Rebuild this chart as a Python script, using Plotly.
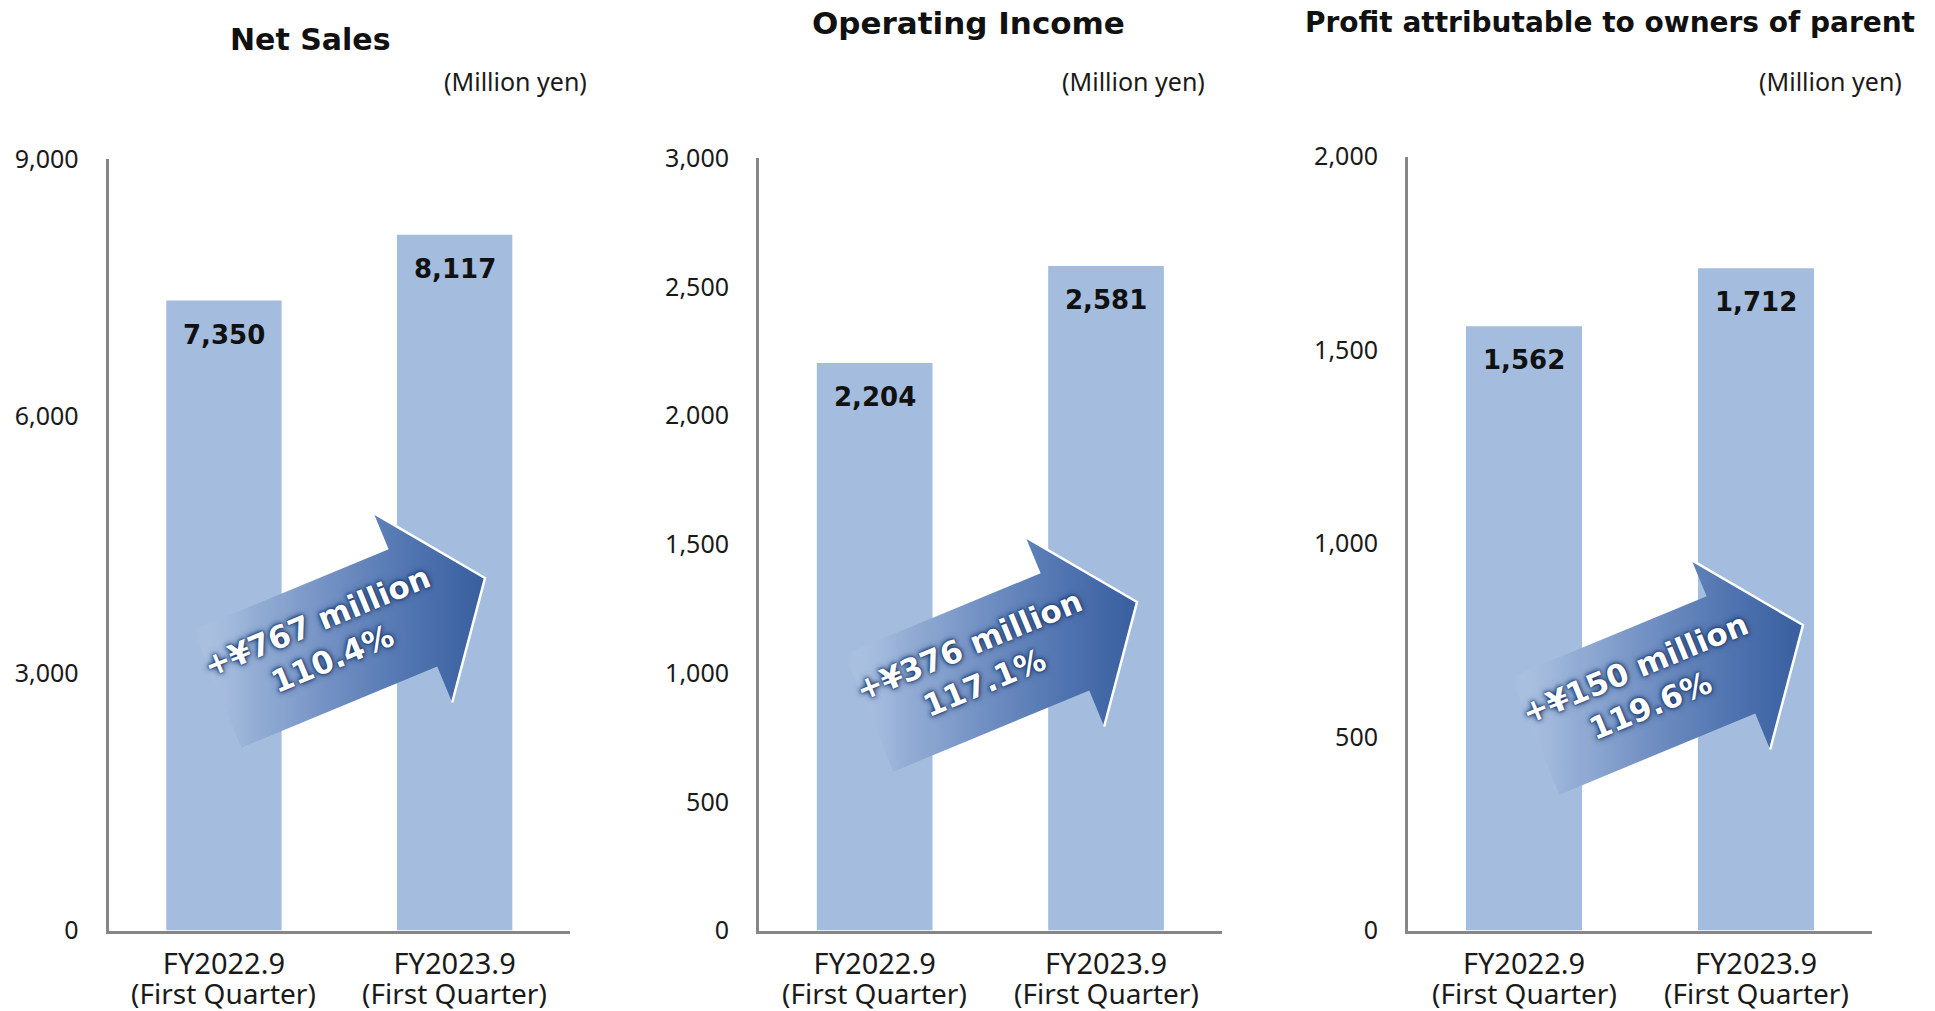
import math
import plotly.graph_objects as go

# ---------------- data ----------------
categories = ["FY2022.9", "FY2023.9"]
period_label = "(First Quarter)"
titles = ["Net Sales", "Operating Income", "Profit attributable to owners of parent"]
unit_label = "(Million yen)"
net_sales = [7350, 8117]
operating_income = [2204, 2581]
profit_parent = [1562, 1712]
y_max = [9000, 3000, 2000]
y_dtick = [3000, 500, 500]
change_amount = ["+¥767 million", "+¥376 million", "+¥150 million"]
change_ratio = ["110.4%", "117.1%", "119.6%"]

series = [net_sales, operating_income, profit_parent]

# ---------------- style / layout ----------------
W, H = 1935, 1011
BAR_COLOR = "#A4BCDD"
AXIS_COLOR = "#868686"
REG_FONT = "Noto Sans"
BOLD_FONT = "DejaVu Sans"

panels_px = [(108.6, 570.0, 159.2), (759.0, 1221.7, 158.0), (1408.0, 1872.0, 156.7)]
y_bottom_px = 930.5
title_px = [(310, 39.5), (968.7, 23.4), (1610, 22)]
title_size = [30, 31, 28]
unit_px = [(588.6, 81.4), (1206.9, 81.4), (1904, 81.4)]
period_y_px = 993
arrow_tip_px = [(485, 578), (1137, 602), (1803, 625)]
text_offset = (-161, 62)
ARROW_ANGLE = 22.5
SHAFT_LEN, HEAD_LEN, SHAFT_W, HEAD_W = 212, 78, 127, 205


def px(x):
    return x / W


def sy(s):
    """screen y pixel -> paper fraction"""
    return 1 - s / H


fig = go.Figure()
layout_axes = {}
annotations = []

for i, vals in enumerate(series):
    n = i + 1
    xa = "x" if n == 1 else f"x{n}"
    ya = "y" if n == 1 else f"y{n}"
    x0, x1, ytop = panels_px[i]
    fig.add_trace(go.Bar(
        x=categories, y=vals, width=0.5, marker=dict(color=BAR_COLOR, line=dict(width=0)),
        xaxis=xa, yaxis=ya, showlegend=False, hoverinfo="skip",
    ))
    layout_axes["xaxis" if n == 1 else f"xaxis{n}"] = dict(
        domain=[px(x0), px(x1)], anchor=ya, range=[-0.5, 1.5], type="category",
        showline=True, linecolor=AXIS_COLOR, linewidth=3, showgrid=False, zeroline=False,
        ticks="", ticklabelstandoff=6, fixedrange=True, automargin=False,
        tickfont=dict(family=REG_FONT, size=29, color="#1a1a1a"),
    )
    layout_axes["yaxis" if n == 1 else f"yaxis{n}"] = dict(
        domain=[sy(y_bottom_px), sy(ytop)], anchor=xa, range=[0, y_max[i]],
        dtick=y_dtick[i], tick0=0, tickformat=",d",
        showline=True, linecolor=AXIS_COLOR, linewidth=3, showgrid=False, zeroline=False,
        ticks="", ticklabelstandoff=22, fixedrange=True, automargin=False,
        tickfont=dict(family=REG_FONT, size=25, color="#1a1a1a"),
    )
    for c, v in zip(categories, vals):
        annotations.append(dict(
            x=c, y=v, xref=xa, yref=ya, text=f"{v:,}", showarrow=False,
            yanchor="middle", yshift=-34,
            font=dict(family=BOLD_FONT, size=26, color="#111111", weight="bold"),
        ))
        annotations.append(dict(
            x=c, y=sy(period_y_px), xref=xa, yref="paper", text=period_label, showarrow=False,
            yanchor="middle",
            font=dict(family=REG_FONT, size=28, color="#1a1a1a"),
        ))
    tx, ty = title_px[i]
    annotations.append(dict(
        x=px(tx), y=sy(ty), xref="paper", yref="paper", text=titles[i], showarrow=False,
        xanchor="center", yanchor="middle",
        font=dict(family=BOLD_FONT, size=title_size[i], color="#111111", weight="bold"),
    ))
    ux, uy = unit_px[i]
    annotations.append(dict(
        x=px(ux), y=sy(uy), xref="paper", yref="paper", text=unit_label, showarrow=False,
        xanchor="right", yanchor="middle",
        font=dict(family=REG_FONT, size=25, color="#1a1a1a"),
    ))

    # ---------- growth arrow (decoration, drawn in pixel space) ----------
    a = math.radians(ARROW_ANGLE)
    ux_, uy_ = math.cos(a), -math.sin(a)
    nx_, ny_ = math.sin(a), math.cos(a)
    tipx, tipy = arrow_tip_px[i]
    jx, jy = tipx - HEAD_LEN * ux_, tipy - HEAD_LEN * uy_
    tx_, ty_ = jx - SHAFT_LEN * ux_, jy - SHAFT_LEN * uy_
    pts = [
        (tx_ - nx_ * SHAFT_W / 2, ty_ - ny_ * SHAFT_W / 2),
        (jx - nx_ * SHAFT_W / 2, jy - ny_ * SHAFT_W / 2),
        (jx - nx_ * HEAD_W / 2, jy - ny_ * HEAD_W / 2),
        (tipx, tipy),
        (jx + nx_ * HEAD_W / 2, jy + ny_ * HEAD_W / 2),
        (jx + nx_ * SHAFT_W / 2, jy + ny_ * SHAFT_W / 2),
        (tx_ + nx_ * SHAFT_W / 2, ty_ + ny_ * SHAFT_W / 2),
    ]
    pts.append(pts[0])
    fig.add_trace(go.Scatter(
        x=[p[0] for p in pts], y=[p[1] for p in pts], xaxis="x4", yaxis="y4",
        mode="lines", fill="toself", line=dict(color="rgba(0,0,0,0)", width=0),
        fillgradient=dict(type="horizontal", colorscale=[
            [0.0, "rgba(190,207,232,0)"],
            [0.08, "rgba(168,190,223,0.6)"],
            [0.2, "rgba(148,174,213,0.97)"],
            [0.45, "rgb(116,146,196)"],
            [0.75, "rgb(80,116,176)"],
            [1.0, "rgb(56,94,158)"],
        ]),
        showlegend=False, hoverinfo="skip",
    ))
    fig.add_trace(go.Scatter(
        x=[pts[2][0], pts[3][0], pts[4][0]], y=[pts[2][1], pts[3][1], pts[4][1]],
        xaxis="x4", yaxis="y4", mode="lines",
        line=dict(color="white", width=2.5), showlegend=False, hoverinfo="skip",
    ))
    annotations.append(dict(
        x=tipx + text_offset[0], y=tipy + text_offset[1], xref="x4", yref="y4",
        text=f"{change_amount[i]}<br>{change_ratio[i]}", showarrow=False,
        textangle=-ARROW_ANGLE, xanchor="center", yanchor="middle",
        font=dict(family=BOLD_FONT, size=31, color="white", weight="bold",
                  shadow="0px 0px 2px #1a3566, 0px 0px 4px #1a3566, 0px 0px 7px #2b4d88"),
    ))

layout_axes["xaxis4"] = dict(domain=[0, 1], range=[0, W], visible=False, anchor="y4", fixedrange=True)
layout_axes["yaxis4"] = dict(domain=[0, 1], range=[H, 0], visible=False, anchor="x4", fixedrange=True)

fig.update_layout(
    width=W, height=H, margin=dict(l=0, r=0, t=0, b=0, autoexpand=False),
    paper_bgcolor="white", plot_bgcolor="rgba(0,0,0,0)",
    showlegend=False, annotations=annotations, **layout_axes,
)

fig.write_html(
    "out.html",
    config={"displayModeBar": False},
    post_script="document.body.style.margin='0';document.body.style.overflow='hidden';",
)
